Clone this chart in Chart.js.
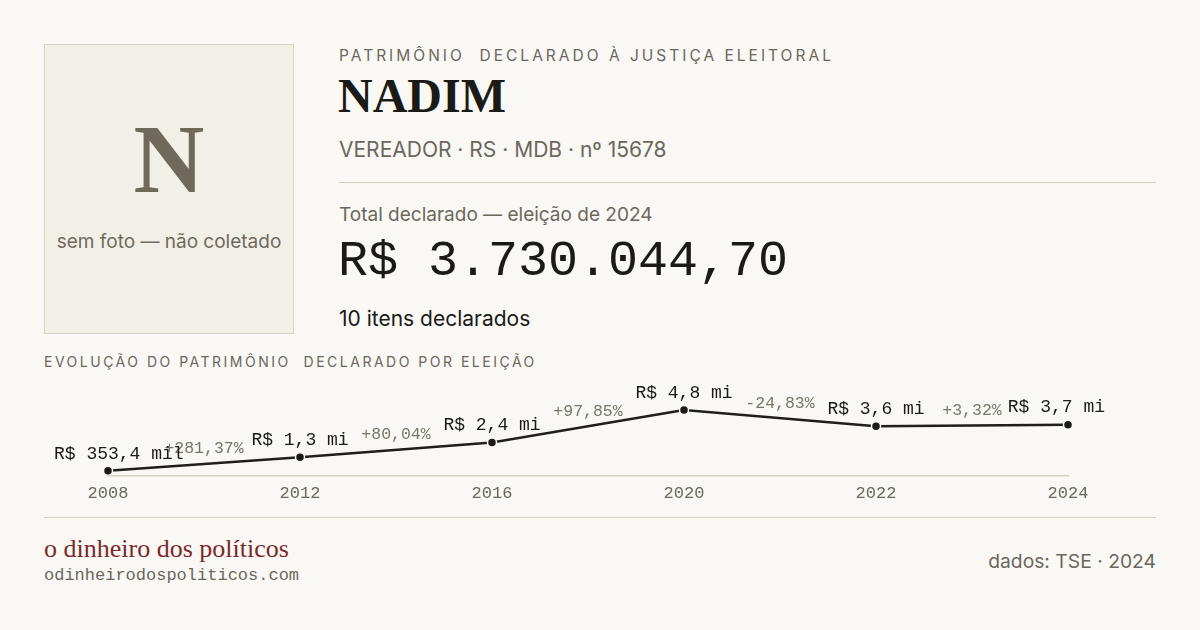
<!DOCTYPE html>
<html>
<head>
<meta charset="utf-8">
<script src="https://cdn.jsdelivr.net/npm/chart.js@4.4.1/dist/chart.umd.min.js"></script>
<style>
  html,body{margin:0;padding:0;}
  body{width:1200px;height:630px;background:#f9f8f4;position:relative;overflow:hidden;font-family:Inter,"Liberation Sans",sans-serif;}
  .abs{position:absolute;white-space:nowrap;}
  #photo{left:44px;top:44px;width:248px;height:288px;background:#f2efe7;border:1px solid #d9d3c3;}
  #initial{left:0;width:248px;top:64px;text-align:center;font-family:"Liberation Serif",serif;font-weight:bold;font-size:98px;line-height:100px;color:#6e695b;}
  #nofoto{left:0;width:248px;top:185px;text-align:center;font-size:19px;line-height:23px;color:#6e6a5e;}
  #kicker{left:339px;top:46px;font-size:15.5px;line-height:19px;letter-spacing:3px;color:#6b675c;}
  #name{left:338px;top:68px;font-family:"Liberation Serif",serif;font-weight:bold;font-size:48px;line-height:56px;color:#1a1a16;}
  #role{left:339px;top:137px;font-size:21px;line-height:26px;color:#6b675c;}
  #rule1{left:339px;top:182px;width:817px;height:1px;background:#d6d0c0;}
  #totlbl{left:339px;top:203px;font-size:19px;line-height:23px;color:#6b675c;}
  #total{left:338px;top:232px;font-family:"Liberation Mono",monospace;font-size:50px;line-height:60px;color:#1a1a16;}
  #items{left:339px;top:306px;font-size:21px;line-height:26px;color:#1a1a16;}
  #evo{left:44px;top:353px;font-size:14px;line-height:17px;letter-spacing:2.5px;color:#6b675c;}
  #chartwrap{left:0;top:370px;width:1200px;height:150px;}
  #rule2{left:44px;top:517px;width:1112px;height:1px;background:#d6d0c0;}
  #brand{left:44px;top:534px;font-family:"Liberation Serif",serif;font-size:26px;line-height:30px;color:#7a2a2a;}
  #url{left:44px;top:566px;font-family:"Liberation Mono",monospace;font-size:17px;line-height:20px;color:#6b675c;}
  #dados{right:44px;top:550px;font-size:19.3px;line-height:23px;color:#6b675c;}
</style>
</head>
<body>
<div id="photo" class="abs">
  <div id="initial" class="abs">N</div>
  <div id="nofoto" class="abs">sem foto — não coletado</div>
</div>
<div id="kicker" class="abs">PATRIMÔNIO&nbsp; DECLARADO À JUSTIÇA ELEITORAL</div>
<div id="name" class="abs">NADIM</div>
<div id="role" class="abs">VEREADOR · RS · MDB · nº 15678</div>
<div id="rule1" class="abs"></div>
<div id="totlbl" class="abs">Total declarado — eleição de 2024</div>
<div id="total" class="abs">R$ 3.730.044,70</div>
<div id="items" class="abs">10 itens declarados</div>
<div id="evo" class="abs">EVOLUÇÃO DO PATRIMÔNIO&nbsp; DECLARADO POR ELEIÇÃO</div>
<div id="chartwrap" class="abs"><canvas id="c"></canvas></div>
<div id="rule2" class="abs"></div>
<div id="brand" class="abs">o dinheiro dos políticos</div>
<div id="url" class="abs">odinheirodospoliticos.com</div>
<div id="dados" class="abs">dados: TSE · 2024</div>

<script>
const years = ["2008", "2012", "2016", "2020", "2022", "2024"];
const values = [353400, 1347800, 2426500, 4800900, 3608800, 3730044.70];
const pctChanges = [281.37, 80.04, 97.85, -24.83, 3.32];

function fmtValue(v) {
  if (v < 1e6) return "R$ " + (v / 1000).toFixed(1).replace(".", ",") + " mil";
  return "R$ " + (v / 1e6).toFixed(1).replace(".", ",") + " mi";
}
function fmtPct(p) {
  return (p >= 0 ? "+" : "") + p.toFixed(2).replace(".", ",") + "%";
}

const labelPlugin = {
  id: "labels",
  afterDatasetsDraw(chart) {
    const ctx = chart.ctx;
    const pts = chart.getDatasetMeta(0).data;
    ctx.save();
    ctx.textBaseline = "middle";
    ctx.textAlign = "center";
    ctx.font = '16.5px "Liberation Mono", monospace';
    ctx.fillStyle = "#7a766a";
    for (let i = 0; i < pctChanges.length; i++) {
      const a = pts[i], b = pts[i + 1];
      ctx.fillText(fmtPct(pctChanges[i]), (a.x + b.x) / 2, (a.y + b.y) / 2 - 15);
    }
    ctx.font = '18px "Liberation Mono", monospace';
    ctx.fillStyle = "#1a1a16";
    pts.forEach((p, i) => {
      const t = fmtValue(values[i]);
      const w = ctx.measureText(t).width;
      let x = p.x;
      if (x - w / 2 < 54) x = 54 + w / 2;
      if (x + w / 2 > 1105) x = 1105 - w / 2;
      ctx.fillText(t, x, p.y - 17);
    });
    ctx.restore();
  }
};

new Chart(document.getElementById("c"), {
  type: "line",
  data: {
    labels: years,
    datasets: [{
      data: values,
      borderColor: "#1f1e1a",
      borderWidth: 2.5,
      tension: 0,
      pointRadius: 4.5,
      pointBackgroundColor: "#1a1a16",
      pointBorderColor: "#f9f8f4",
      pointBorderWidth: 1.5,
      fill: false
    }]
  },
  options: {
    responsive: true,
    maintainAspectRatio: false,
    animation: false,
    devicePixelRatio: 1,
    layout: { padding: { left: 108, right: 132, top: 10, bottom: 8 } },
    plugins: { legend: { display: false }, tooltip: { enabled: false } },
    scales: {
      x: {
        offset: false,
        grid: { display: false, drawTicks: false },
        border: { display: true, color: "#d6d0c0", width: 1.5 },
        ticks: { color: "#6b675c", padding: 8, font: { family: "Liberation Mono", size: 17 }, maxRotation: 0, autoSkip: false }
      },
      y: {
        display: false,
        min: 0,
        max: 7000000
      }
    }
  },
  plugins: [labelPlugin]
});
</script>
</body>
</html>
